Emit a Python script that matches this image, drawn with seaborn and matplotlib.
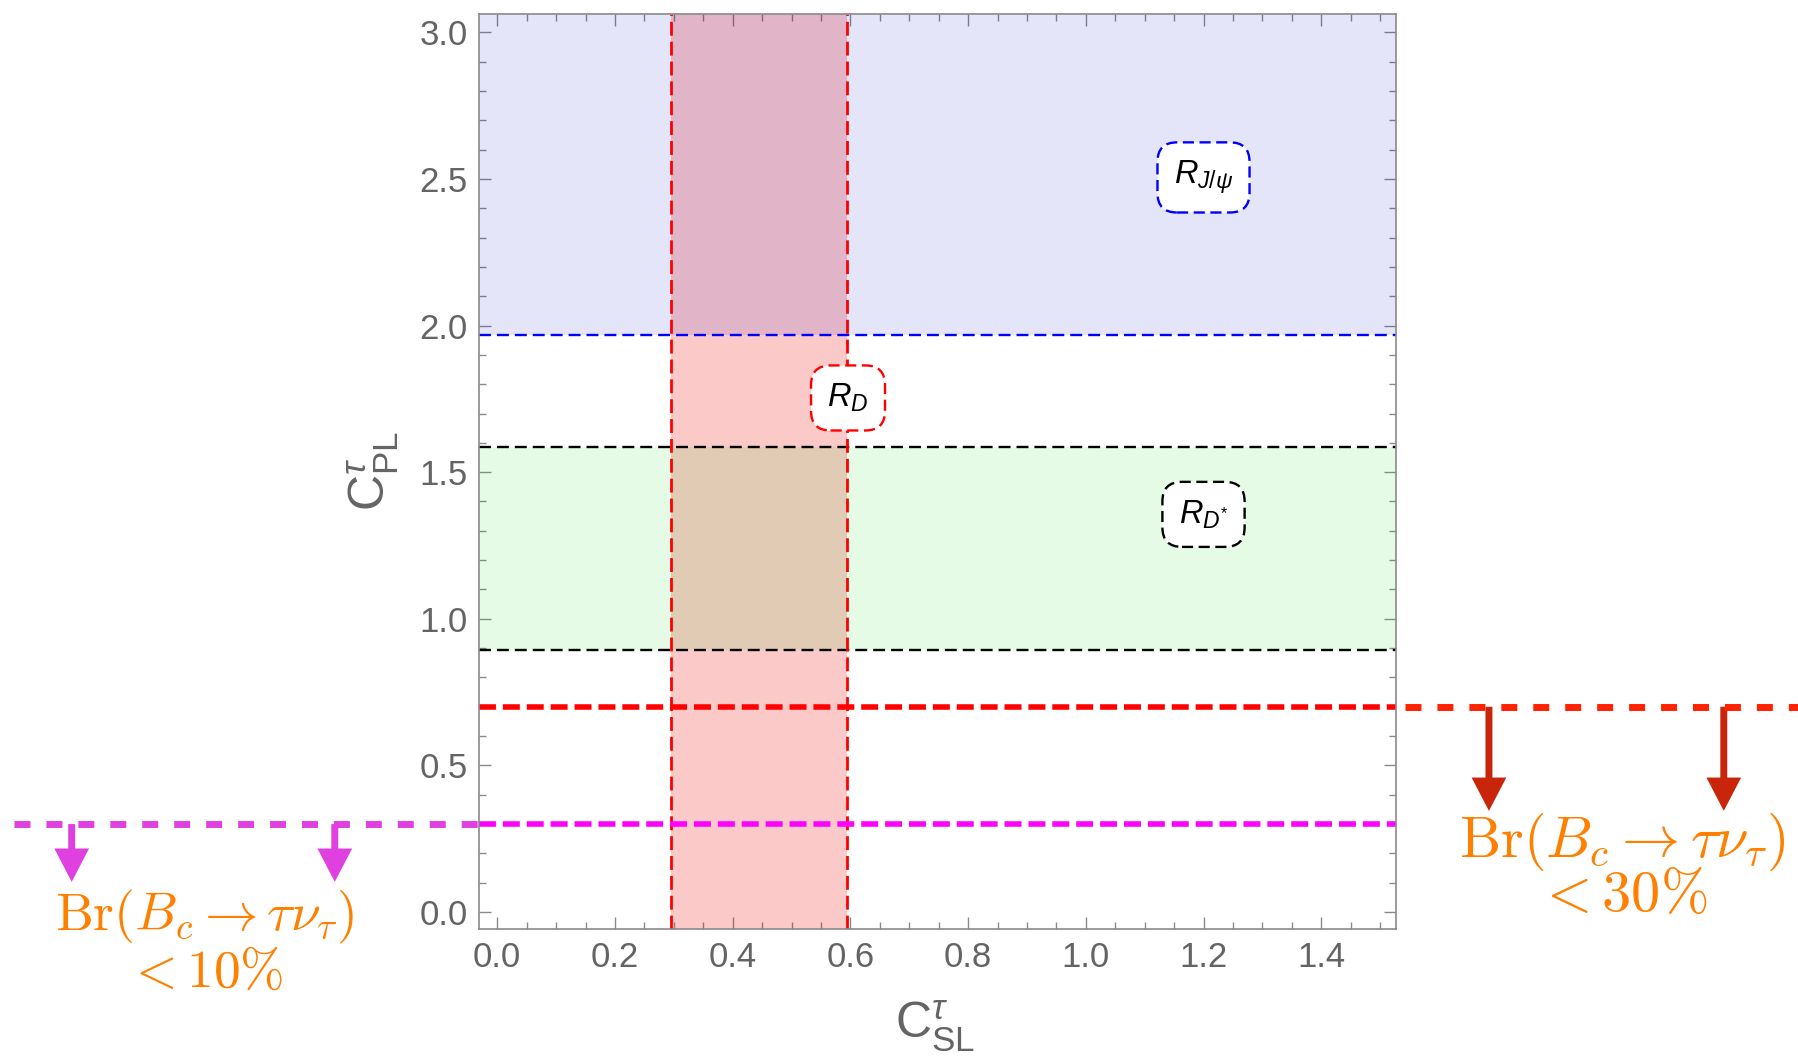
import matplotlib
matplotlib.use("Agg")
import matplotlib.pyplot as plt
from matplotlib.ticker import MultipleLocator, FixedLocator, FormatStrFormatter
import seaborn as sns

# Allowed regions in the (C_SL, C_PL) plane
rd_csl = [0.296, 0.595]        # R_D band in C_SL
rjpsi_cpl_min = 1.968          # R_J/psi allowed above this C_PL
rdstar_cpl = [0.894, 1.585]    # R_D* band in C_PL
br30_cpl = 0.70                # Br(Bc -> tau nu) < 30% bound
br10_cpl = 0.30                # Br(Bc -> tau nu) < 10% bound

x_ticks = [0.0, 0.2, 0.4, 0.6, 0.8, 1.0, 1.2, 1.4]
y_ticks = [0.0, 0.5, 1.0, 1.5, 2.0, 2.5, 3.0]
x_range = (-0.031, 1.527)
y_range = (-0.057, 3.063)

box_labels = [r"$R_{J/\psi}$", r"$R_D$", r"$R_{D^{*}}$"]
box_x = [1.2, 0.596, 1.2]
box_y = [2.505, 1.753, 1.356]
box_colors = ["#0000ff", "#ff0000", "#000000"]

br_text = r"$\mathrm{Br}(B_c \rightarrow \tau\nu_\tau)$"
br10_text = r"$< 10\%$"
br30_text = r"$< 30\%$"

sns.set_theme(style="ticks")
plt.rcParams["font.family"] = ["Liberation Sans", "DejaVu Sans"]
plt.rcParams["mathtext.fontset"] = "custom"
plt.rcParams["mathtext.rm"] = "Liberation Sans"
plt.rcParams["mathtext.it"] = "Liberation Sans:italic"
plt.rcParams["mathtext.sf"] = "Liberation Sans"
plt.rcParams["lines.scale_dashes"] = False

fig = plt.figure(figsize=(17.98, 10.60), dpi=100)
ax = fig.add_axes([0.2664, 0.1238, 0.51, 0.8632])
ax.set_xlim(*x_range)
ax.set_ylim(*y_range)

# shaded bands
ax.axvspan(rd_csl[0], rd_csl[1], color=(0.96, 0.0, 0.0), alpha=0.21, lw=0, zorder=1)
ax.axhspan(rjpsi_cpl_min, 4.0, color=(0.0, 0.0, 0.78), alpha=0.1, lw=0, zorder=2)
ax.axhspan(rdstar_cpl[0], rdstar_cpl[1], color=(0.0, 0.88, 0.0), alpha=0.1, lw=0, zorder=2)

# band edges
thin = dict(lw=1.7, linestyle=(0, (8.6, 4.3)), zorder=4)
ax.axhline(rjpsi_cpl_min, color="#0000ff", **thin)
for v in rdstar_cpl:
    ax.axhline(v, color="#000000", **thin)
for v in rd_csl:
    ax.axvline(v, color="#ff0000", lw=2.0, linestyle=(0, (10, 4.3)), zorder=4)

# branching-ratio bounds inside the frame
thick = dict(lw=4.0, linestyle=(0, (12.2, 5.0)), zorder=5)
ax.axhline(br30_cpl, color="#ff0000", **thick)
ax.axhline(br10_cpl, color="#ff00ff", **thick)

# and their continuation outside the frame
outside = dict(lw=5.0, linestyle=(0, (11.5, 11.5)), clip_on=False, zorder=5,
               solid_capstyle="butt", dash_capstyle="butt")
ax.plot([-0.821, -0.029], [br10_cpl, br10_cpl], color="#e040e0", **outside)
ax.plot([1.542, 2.21], [br30_cpl, br30_cpl], color="#ff2200", **outside)

arrow_style = "simple,head_length=24,head_width=25,tail_width=5"
for xa in [-0.723, -0.276]:
    ax.annotate("", xy=(xa, 0.103), xytext=(xa, br10_cpl),
                arrowprops=dict(arrowstyle=arrow_style, mutation_scale=1,
                                color="#e040e0", lw=0, shrinkA=0, shrinkB=0),
                annotation_clip=False)
for xa in [1.685, 2.084]:
    ax.annotate("", xy=(xa, 0.345), xytext=(xa, br30_cpl),
                arrowprops=dict(arrowstyle=arrow_style, mutation_scale=1,
                                color="#c8250a", lw=0, shrinkA=0, shrinkB=0),
                annotation_clip=False)

orange = "#ff8000"
ax.text(-0.497, -0.016, br_text, color=orange, fontsize=38.5, ha="center", va="center",
        math_fontfamily="cm")
ax.text(-0.497, -0.206, br10_text, color=orange, fontsize=38.5, ha="center", va="center",
        math_fontfamily="cm")
ax.text(1.911, 0.240, br_text, color=orange, fontsize=42, ha="center", va="center",
        math_fontfamily="cm")
ax.text(1.911, 0.054, br30_text, color=orange, fontsize=42, ha="center", va="center",
        math_fontfamily="cm")

# labelled boxes
for lab, bx, by, bc in zip(box_labels, box_x, box_y, box_colors):
    ax.text(bx, by, lab, fontsize=23.5, color="black", ha="center", va="center", zorder=6,
            bbox=dict(boxstyle="round,pad=0.5,rounding_size=0.6", fc="white", ec=bc,
                      lw=1.7, linestyle=(0, (8, 4))))

# frame and ticks
for s in ax.spines.values():
    s.set_color("#8a8a8a")
    s.set_linewidth(1.2)
    s.set_zorder(7)
ax.xaxis.set_major_locator(FixedLocator(x_ticks))
ax.yaxis.set_major_locator(FixedLocator(y_ticks))
ax.xaxis.set_minor_locator(MultipleLocator(0.05))
ax.yaxis.set_minor_locator(MultipleLocator(0.1))
ax.xaxis.set_major_formatter(FormatStrFormatter("%.1f"))
ax.yaxis.set_major_formatter(FormatStrFormatter("%.1f"))
ax.tick_params(which="both", direction="in", top=True, right=True,
               color="#8a8a8a", width=1.0, labelcolor="#646464", labelsize=25)
ax.tick_params(which="major", length=8.5)
ax.tick_params(which="minor", length=5)
ax.tick_params(axis="x", pad=9)
ax.tick_params(axis="y", pad=8)

ax.set_xlabel(r"$\mathrm{C}^{\tau}_{\mathrm{SL}}$", fontsize=36, color="#646464",
              ha="center", va="center")
ax.set_ylabel(r"$\mathrm{C}^{\tau}_{\mathrm{PL}}$", fontsize=36, color="#646464",
              ha="center", va="center")
ax.xaxis.set_label_coords(0.497, -0.106)
ax.yaxis.set_label_coords(-0.1156, 0.5)

fig.savefig("out.png", dpi=100)
